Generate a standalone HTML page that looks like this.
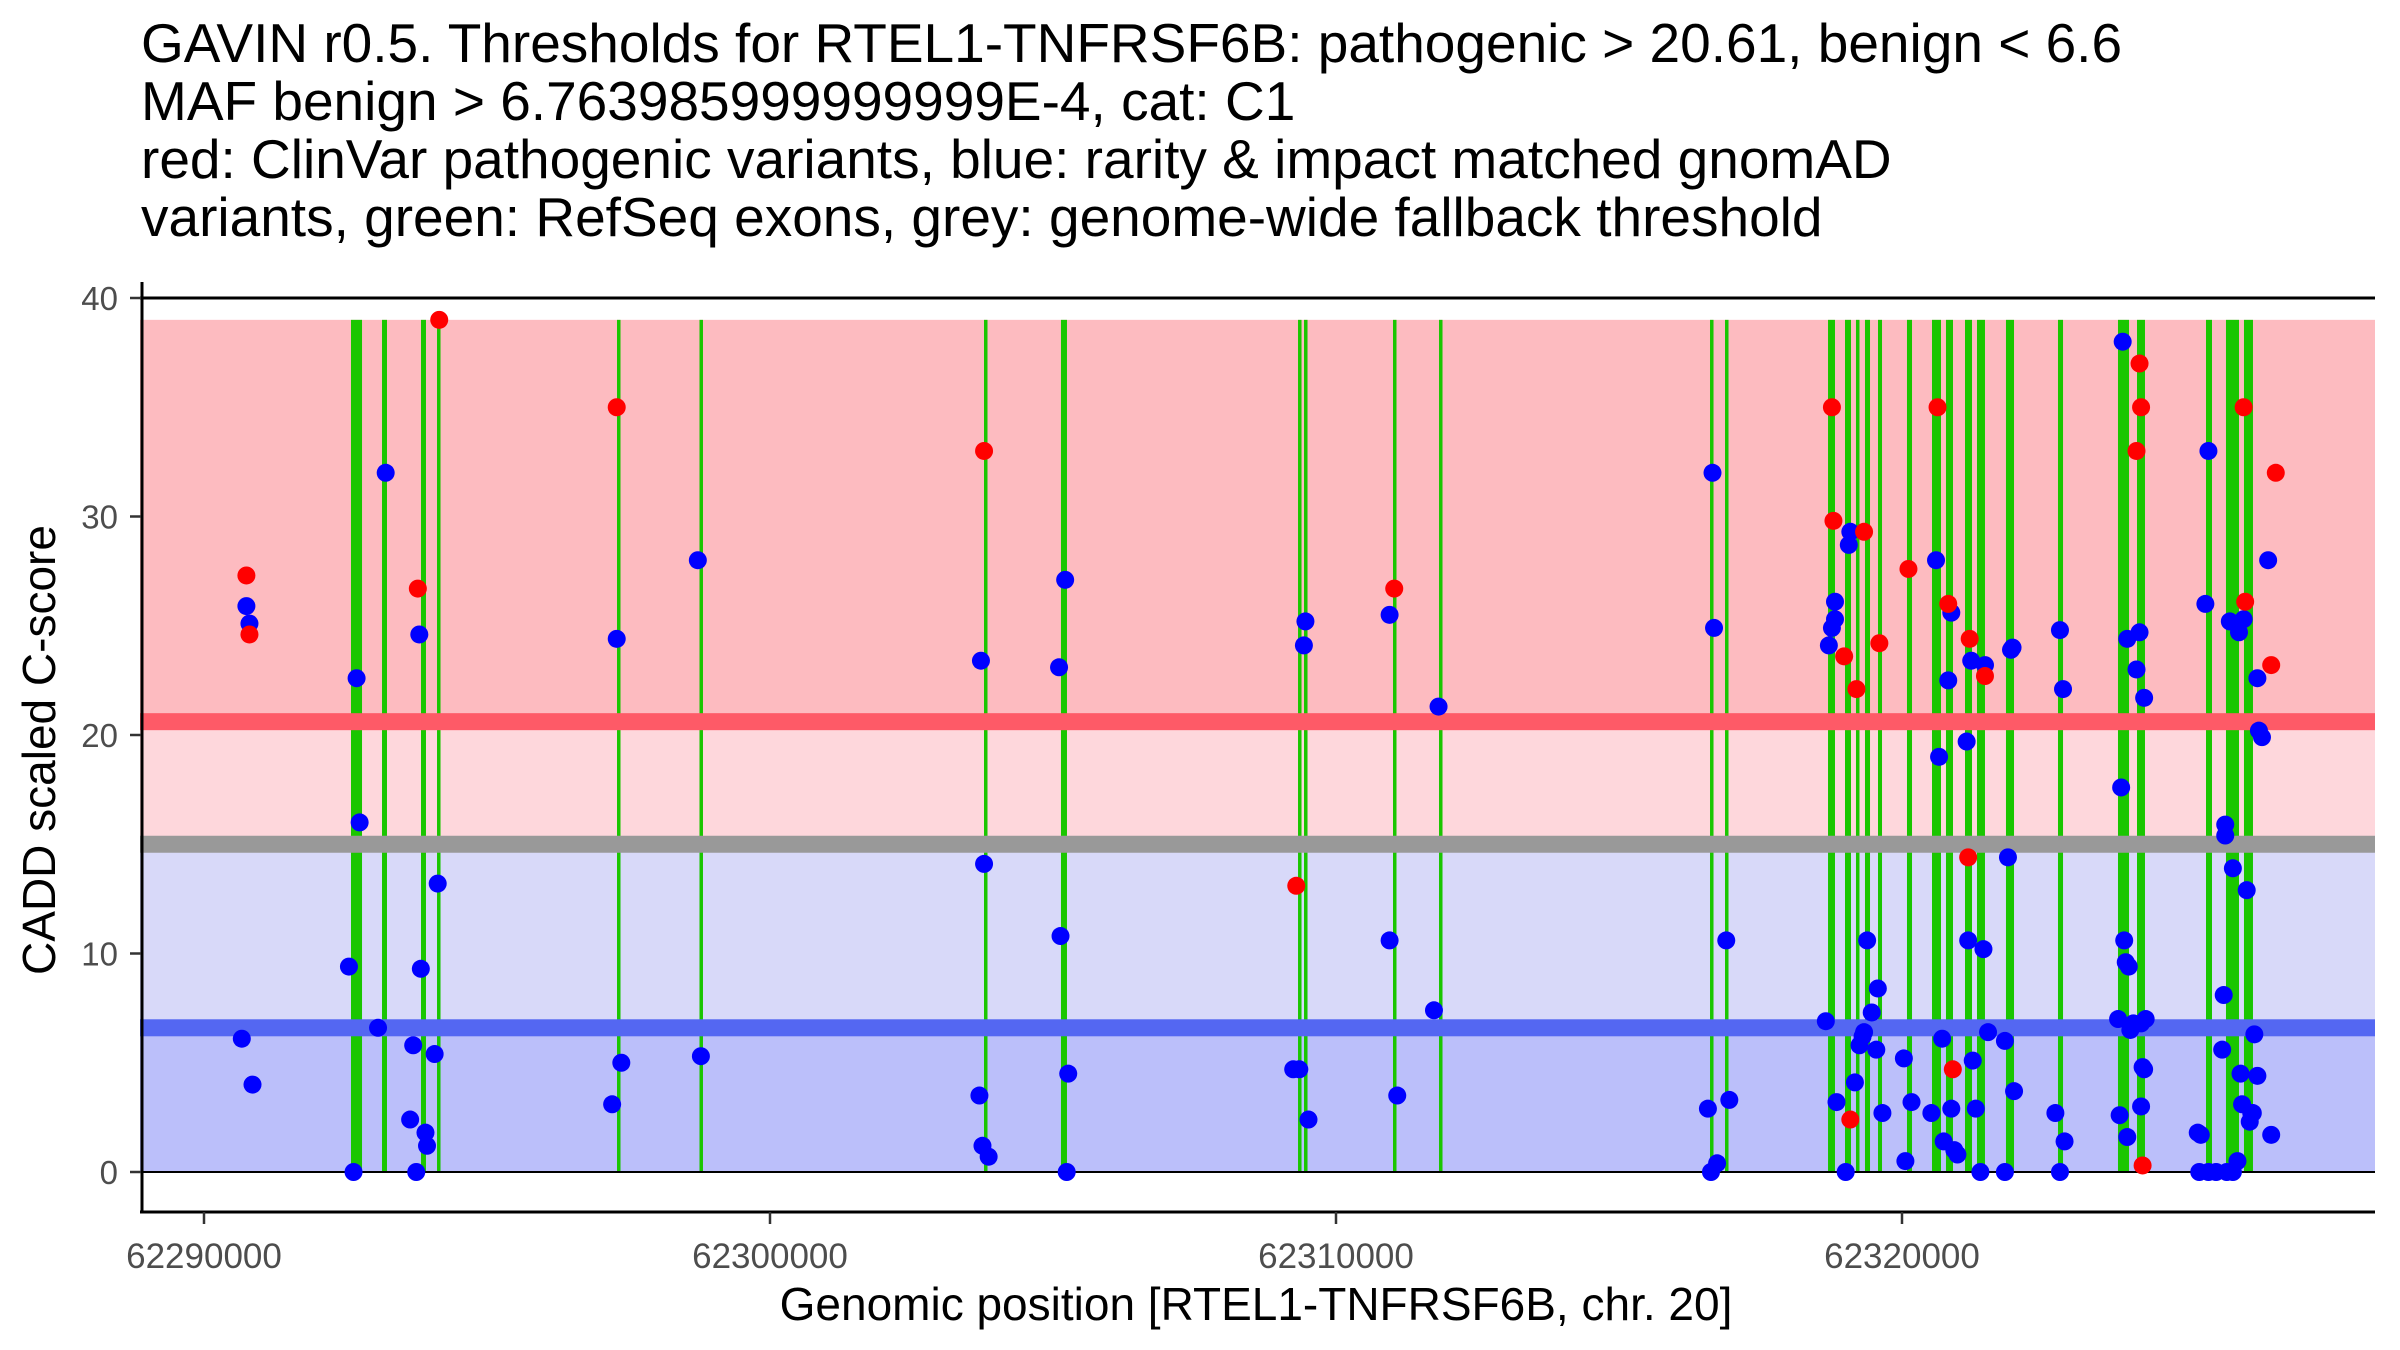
<!DOCTYPE html>
<html><head><meta charset="utf-8"><style>
body{margin:0;background:#fff;}
svg{display:block;font-family:"Liberation Sans",Arial,sans-serif;}
</style></head><body>
<svg id="chart" width="2400" height="1350" viewBox="0 0 2400 1350" xmlns="http://www.w3.org/2000/svg">
<g font-size="55" fill="#000">
<text x="141" y="62">GAVIN r0.5. Thresholds for RTEL1-TNFRSF6B: pathogenic &gt; 20.61, benign &lt; 6.6</text>
<text x="141" y="120">MAF benign &gt; 6.763985999999999E-4, cat: C1</text>
<text x="141" y="178">red: ClinVar pathogenic variants, blue: rarity &amp; impact matched gnomAD</text>
<text x="141" y="236">variants, green: RefSeq exons, grey: genome-wide fallback threshold</text>
</g>
<g id="bands"></g>
<g id="exons"></g>
<g id="lines"></g>
<g id="dots"></g>
<g id="axes"></g>
<text x="1256" y="1320" font-size="46" text-anchor="middle">Genomic position [RTEL1-TNFRSF6B, chr. 20]</text>
<text transform="translate(55,750) rotate(-90)" font-size="46" text-anchor="middle">CADD scaled C-score</text>
</svg>
<script>
const xTicks=[62290000,62300000,62310000,62320000];
const yTicks=[0,10,20,30,40];
const pathoThreshold=20.61, benignThreshold=6.6, fallbackThreshold=15, bandTop=39;
const exonStarts=[62292597,62293145,62293834,62294117,62297297,62298754,62303781,62305141,62309329,62309435,62311007,62311820,62316608,62316873,62318693,62318993,62319187,62319346,62319576,62320088,62320530,62320777,62321113,62321325,62321837,62322756,62323816,62324152,62325371,62325724,62326042];
const exonEnds=[62292792,62293233,62293922,62294170,62297347,62298804,62303831,62305247,62309379,62309485,62311060,62311870,62316658,62316923,62318816,62319099,62319223,62319435,62319647,62320177,62320689,62320901,62321237,62321466,62321979,62322845,62324011,62324293,62325477,62325954,62326201];
const redPos=[62290749,62290803,62293778,62294156,62297292,62303782,62309298,62311029,62318762,62318789,62318978,62319087,62319195,62319330,62319600,62320114,62320628,62320817,62320898,62321169,62321196,62321466,62324197,62324224,62324143,62324251,62326036,62326063,62326523,62326604];
const redScore=[27.3,24.6,26.7,39,35,33,13.1,26.7,35,29.8,23.6,2.4,22.1,29.3,24.2,27.6,35,26,4.7,14.4,24.4,22.7,37,35,33,0.3,35,26.1,23.2,32];
const bluePos=[62290668,62290749,62290803,62290857,62292642,62292696,62292750,62292561,62293075,62293210,62293642,62293696,62293750,62293804,62293831,62293913,62293940,62294075,62294129,62297211,62297292,62297373,62298725,62298779,62303700,62303727,62303754,62303782,62303863,62305107,62305133,62305215,62305242,62305269,62309244,62309352,62309433,62309460,62309514,62310947,62310947,62311082,62311731,62311812,62316571,62316625,62316652,62316679,62316733,62316895,62316949,62318654,62318708,62318762,62318816,62318843,62318816,62319005,62319060,62319087,62319168,62319249,62319303,62319330,62319384,62319465,62319546,62319573,62319654,62320033,62320060,62320168,62320519,62320601,62320655,62320709,62320736,62320817,62320871,62320871,62320925,62320979,62321142,62321169,62321223,62321250,62321304,62321385,62321439,62321466,62321520,62321818,62321818,62321872,62321926,62321953,62321980,62322710,62322791,62322791,62322845,62322872,62323818,62323845,62323872,62323899,62323926,62323953,62323980,62324007,62323980,62324034,62324088,62324143,62324197,62324224,62324224,62324251,62324278,62324278,62324305,62325225,62325252,62325279,62325360,62325414,62325414,62325549,62325657,62325684,62325711,62325711,62325738,62325792,62325846,62325846,62325900,62325927,62325954,62325981,62326008,62326036,62326090,62326144,62326171,62326198,62326225,62326279,62326279,62326306,62326360,62326469,62326523];
const blueScore=[6.1,25.9,25.1,4.0,0,22.6,16.0,9.4,6.6,32,2.4,5.8,0,24.6,9.3,1.8,1.2,5.4,13.2,3.1,24.4,5.0,28,5.3,3.5,23.4,1.2,14.1,0.7,23.1,10.8,27.1,0,4.5,4.7,4.7,24.1,25.2,2.4,25.5,10.6,3.5,7.4,21.3,2.9,0,32,24.9,0.4,10.6,3.3,6.9,24.1,24.9,25.3,3.2,26.1,0,28.7,29.3,4.1,5.8,6.2,6.4,10.6,7.3,5.6,8.4,2.7,5.2,0.5,3.2,2.7,28,19,6.1,1.4,22.5,25.6,2.9,1.0,0.8,19.7,10.6,23.4,5.1,2.9,0,10.2,23.2,6.4,0,6.0,14.4,23.9,24.0,3.7,2.7,24.8,0,22.1,1.4,7.0,2.6,17.6,38,10.6,9.6,1.6,9.4,24.4,6.5,6.8,23.0,24.7,6.8,3.0,4.8,21.7,4.7,7.0,1.8,0,1.7,26,33,0,0,5.6,8.1,15.9,15.4,0,25.2,13.9,0,25.1,0.5,24.7,4.5,3.1,25.3,12.9,2.3,2.7,2.7,6.3,22.6,4.4,20.2,19.9,28,1.7];

const NS='http://www.w3.org/2000/svg';
const L=140,R=2375,AX=1212;
const X=v=>204+(v-62290000)*0.0566;
const Y=v=>1172-v*21.85;
function mk(parent,tag,attrs){const e=document.createElementNS(NS,tag);for(const k in attrs)e.setAttribute(k,attrs[k]);document.getElementById(parent).appendChild(e);return e;}
function rect(p,y1,y2,fill){return mk(p,'rect',{x:L,y:Y(y1),width:R-L,height:Y(y2)-Y(y1),fill:fill});}
let e;
e=rect('bands',bandTop,pathoThreshold,'#fdbbc0');


e=rect('bands',pathoThreshold,fallbackThreshold,'#fed7dc');


e=rect('bands',fallbackThreshold,benignThreshold,'#d8d9f9');


e=rect('bands',benignThreshold,0,'#bbbffa');


exonStarts.forEach((s,i)=>{
  const x1=X(s),x2=X(exonEnds[i]);const w=Math.max(3.5,x2-x1);
  const r=mk('exons','rect',{x:x1,y:Y(bandTop),width:w,height:Y(0)-Y(bandTop),fill:'#1ac600'});
  
  
});
[[pathoThreshold,'#fe5a67','pathogenic-threshold-line'],[fallbackThreshold,'#999999','fallback-threshold-line'],[benignThreshold,'#5467f2','benign-threshold-line']].forEach(t=>{
  const r=mk('lines','rect',{x:L,y:Y(t[0])-8.5,width:R-L,height:17,fill:t[1]});
  
  
});
e=mk('lines','line',{x1:L,x2:R,y1:Y(0),y2:Y(0),stroke:'#000','stroke-width':2});


bluePos.forEach((p,i)=>{
  const c=mk('dots','circle',{cx:X(p),cy:Y(blueScore[i]),r:9,fill:'#0000ff'});
  
  
});
redPos.forEach((p,i)=>{
  const c=mk('dots','circle',{cx:X(p),cy:Y(redScore[i]),r:9,fill:'#ff0000'});
  
  
});
e=mk('axes','line',{x1:L,x2:R,y1:Y(40),y2:Y(40),stroke:'#000','stroke-width':3});


e=mk('axes','line',{x1:L,x2:R,y1:AX,y2:AX,stroke:'#000','stroke-width':3});


e=mk('axes','line',{x1:142,x2:142,y1:282,y2:AX+1.5,stroke:'#000','stroke-width':3});


yTicks.forEach(v=>{
  const t=mk('axes','line',{x1:130,x2:141,y1:Y(v),y2:Y(v),stroke:'#333','stroke-width':2.5});
  
  
  const l=mk('axes','text',{x:118,y:Y(v)+12,'font-size':33,fill:'#4d4d4d','text-anchor':'end'});
  l.textContent=v;
  
  
});
xTicks.forEach(v=>{
  const t=mk('axes','line',{x1:X(v),x2:X(v),y1:AX,y2:AX+12,stroke:'#333','stroke-width':2.5});
  
  
  const l=mk('axes','text',{x:X(v),y:1268,'font-size':35,fill:'#4d4d4d','text-anchor':'middle'});
  l.textContent=v;
  
  
});
</script>
</body></html>
